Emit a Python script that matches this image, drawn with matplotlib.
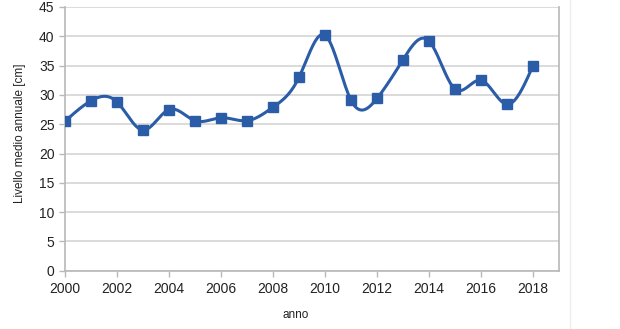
import numpy as np
import matplotlib
matplotlib.use('Agg')
from matplotlib import pyplot as plt
from matplotlib.lines import Line2D

plt.rcParams['font.family'] = ['Liberation Sans', 'DejaVu Sans']

# annual mean level per year
anni = [2000, 2001, 2002, 2003, 2004, 2005, 2006, 2007, 2008, 2009,
        2010, 2011, 2012, 2013, 2014, 2015, 2016, 2017, 2018]
livello = [25.5, 29.0, 28.8, 24.0, 27.5, 25.6, 26.1, 25.6, 27.9, 33.0,
           40.2, 29.1, 29.4, 36.0, 39.2, 31.0, 32.5, 28.4, 35.0]
xticks = [2000, 2002, 2004, 2006, 2008, 2010, 2012, 2014, 2016, 2018]
yticks = [0, 5, 10, 15, 20, 25, 30, 35, 40, 45]


def natural_spline(x, y, n=600):
    # natural cubic spline through the points (like the spreadsheet's smoothed line)
    x = np.asarray(x, float)
    y = np.asarray(y, float)
    k = len(x)
    h = np.diff(x)
    A = np.zeros((k, k))
    b = np.zeros(k)
    A[0, 0] = A[-1, -1] = 1
    for i in range(1, k - 1):
        A[i, i - 1] = h[i - 1]
        A[i, i] = 2 * (h[i - 1] + h[i])
        A[i, i + 1] = h[i]
        b[i] = 6 * ((y[i + 1] - y[i]) / h[i] - (y[i] - y[i - 1]) / h[i - 1])
    M = np.linalg.solve(A, b)
    xs = np.linspace(x[0], x[-1], n)
    idx = np.clip(np.searchsorted(x, xs) - 1, 0, k - 2)
    x0, x1 = x[idx], x[idx + 1]
    hh = x1 - x0
    t0 = x1 - xs
    t1 = xs - x0
    ys = (M[idx] * t0**3 + M[idx + 1] * t1**3) / (6 * hh) \
        + (y[idx] / hh - M[idx] * hh / 6) * t0 \
        + (y[idx + 1] / hh - M[idx + 1] * hh / 6) * t1
    return xs, ys


col = '#2b5ca7'
fig = plt.figure(figsize=(6.2, 3.29), dpi=100)
ax = fig.add_axes([65 / 620, 1 - 270.7 / 329, (559 - 65) / 620, (270.7 - 7) / 329])

xs, ys = natural_spline(anni, livello)
ax.plot(xs, ys, color=col, lw=2.2, zorder=3)
ax.plot(anni, livello, 's', color=col, ms=7.5, zorder=4)

ax.set_xlim(2000, 2019)
ax.set_ylim(0, 45)
ax.set_xticks(xticks)
ax.set_yticks(yticks)
ax.grid(axis='y', color='#d4d4d4', lw=1.2)
ax.set_axisbelow(True)
ax.spines['top'].set_visible(False)
for s in ['left', 'bottom', 'right']:
    ax.spines[s].set_color('#b8b8b8')
    ax.spines[s].set_linewidth(1.2)
ax.tick_params(axis='both', colors='#b8b8b8', labelcolor='#222222',
               length=4, width=1, labelsize=10)
ax.tick_params(axis='x', pad=4)

ax.set_xlabel('anno', fontsize=8.5, color='#222222', labelpad=8)
ax.xaxis.set_label_coords(0.466, -0.145)
ax.set_ylabel('Livello medio annuale [cm]', fontsize=8.5, color='#222222')
ax.yaxis.set_label_coords(-0.078, 0.52)

fig.add_artist(Line2D([570 / 620, 570 / 620], [0, 1], color='#eeeeee', lw=1))

fig.savefig('out.png', dpi=100)
